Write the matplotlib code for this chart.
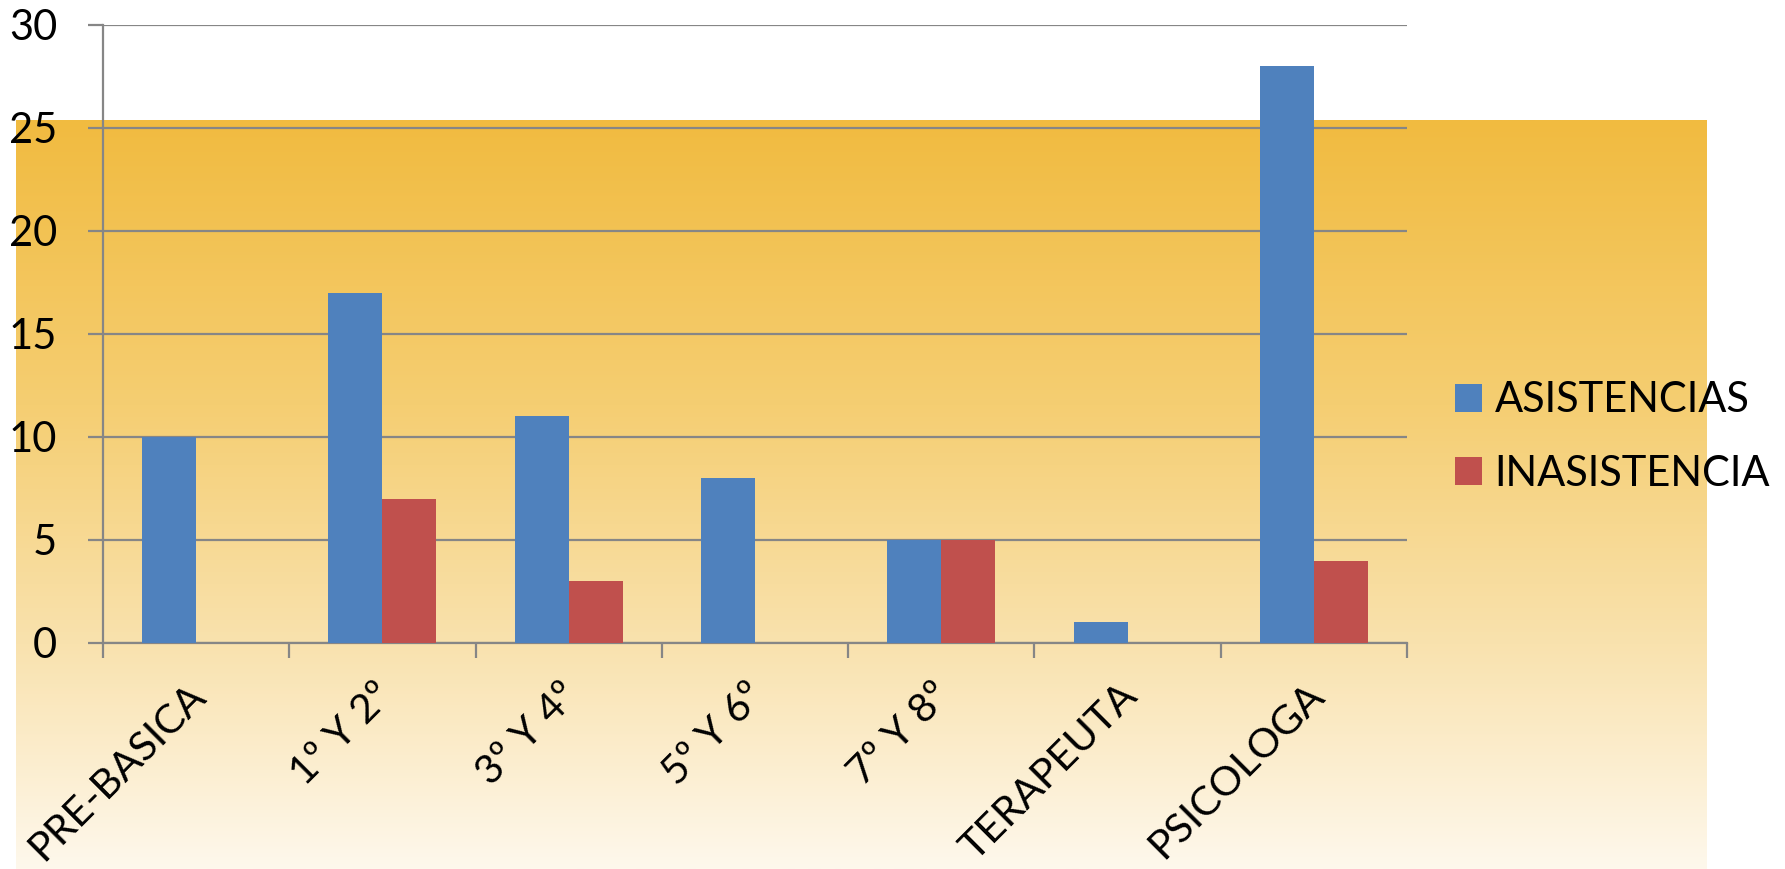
import numpy as np
import matplotlib
matplotlib.use("Agg")
import matplotlib.pyplot as plt
from matplotlib.colors import LinearSegmentedColormap

plt.rcParams['font.family'] = ['Lato', 'DejaVu Sans']

categories = ["PRE-BASICA", "1º Y 2º", "3º Y 4º", "5º Y 6º", "7º Y 8º", "TERAPEUTA", "PSICOLOGA"]
asistencias = [10, 17, 11, 8, 5, 1, 28]
inasistencia = [0, 7, 3, 0, 5, 0, 4]
series_names = ["ASISTENCIAS", "INASISTENCIA"]
yticks = [0, 5, 10, 15, 20, 25, 30]

W, H = 1785, 869
fig = plt.figure(figsize=(W / 100, H / 100), dpi=100)
fig.patch.set_facecolor("white")

# gradient background panel
gx0, gx1, gy0, gy1 = 16, 1707, 120, 869
bg = fig.add_axes([gx0 / W, 1 - gy1 / H, (gx1 - gx0) / W, (gy1 - gy0) / H], zorder=0)
cmap = LinearSegmentedColormap.from_list(
    "grad", [(0.0, "#F1BB40"), (0.38, "#F5CE72"), (0.7, "#F9E2AE"), (1.0, "#FEF8EC")])
grad = np.linspace(0, 1, 256).reshape(-1, 1)
bg.imshow(grad, aspect="auto", cmap=cmap, extent=[0, 1, 1, 0])
bg.axis("off")

ax = fig.add_axes([103 / W, 1 - 643 / H, (1407 - 103) / W, (643 - 24.5) / H], zorder=1)
ax.patch.set_alpha(0)

x = np.arange(len(categories))
bw = 0.29
b1 = ax.bar(x - bw / 2, asistencias, bw, color="#4F81BD", zorder=3, label=series_names[0])
b2 = ax.bar(x + bw / 2, inasistencia, bw, color="#C0504D", zorder=3, label=series_names[1])

ax.set_xlim(-0.5, len(categories) - 0.5)
ax.set_ylim(0, 30)
ax.set_yticks(yticks)
ax.yaxis.grid(True, color="#868686", linewidth=1.6, zorder=0)
ax.set_axisbelow(True)

for s in ["top", "right"]:
    ax.spines[s].set_visible(False)
for s in ["left", "bottom"]:
    ax.spines[s].set_color("#868686")
    ax.spines[s].set_linewidth(1.6)

ax.set_xticks(np.arange(len(categories) + 1) - 0.5)
ax.set_xticklabels([])
ax.set_xticks(x + 0.09, minor=True)
ax.set_xticklabels(categories, minor=True, rotation=45, ha="right", va="top",
                   fontsize=29.5, rotation_mode="default")
ax.tick_params(axis="x", which="minor", length=0, pad=24)
ax.tick_params(axis="x", which="major", length=11, width=1.6, color="#868686")
ax.tick_params(axis="y", length=11, width=1.6, color="#868686", labelsize=30, pad=22)

ax.legend(handles=[b1, b2], loc="center left", bbox_to_anchor=(1455 / W, 1 - 437 / H),
          bbox_transform=fig.transFigure, frameon=False, fontsize=30,
          handlelength=0.65, handleheight=0.65, handletextpad=0.3,
          labelspacing=0.85, borderpad=0, borderaxespad=0)

fig.savefig("out.png", dpi=100)
